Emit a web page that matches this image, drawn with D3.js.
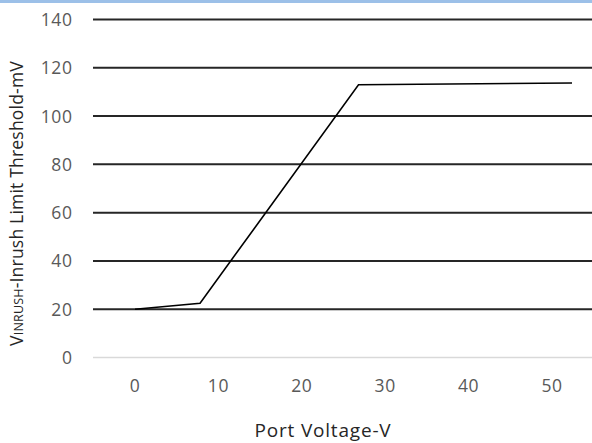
<!DOCTYPE html>
<html>
<head>
<meta charset="utf-8">
<script src="https://cdn.jsdelivr.net/npm/d3@7/dist/d3.min.js"></script>
<style>
  body { margin: 0; background: #fff; }
  text { font-family: "Open Sans", "Noto Sans", sans-serif; }
</style>
</head>
<body>
<svg id="chart" width="592" height="443"></svg>
<script>
// data
var voltage = [0, 7.8, 26.8, 52.4];
var threshold = [20, 22.5, 113, 113.7];
var yTicks = [0, 20, 40, 60, 80, 100, 120, 140];
var xTicks = [0, 10, 20, 30, 40, 50];

var svg = d3.select("#chart"),
    width = +svg.attr("width"),
    height = +svg.attr("height");

var margin = {top: 19.5, right: 0, bottom: 85.5, left: 93};

var x = d3.scaleLinear()
  .domain([0, 10])
  .range([135, 218.4]);

var y = d3.scaleLinear()
  .domain([0, 140])
  .range([height - margin.bottom, margin.top]);

// thin blue strip across the top
svg.append("rect")
  .attr("x", 0).attr("y", 0)
  .attr("width", width).attr("height", 3)
  .attr("fill", "#9cc0e8");

// gridlines
svg.selectAll(".grid")
  .data(yTicks)
  .enter().append("line")
    .attr("class", "grid")
    .attr("x1", margin.left)
    .attr("x2", width)
    .attr("y1", function(d) { return y(d); })
    .attr("y2", function(d) { return y(d); })
    .attr("stroke", function(d) { return d == 0 ? "#d9d9d9" : "#262626"; })
    .attr("stroke-width", function(d) { return d == 0 ? 1.5 : 2; });

// y tick labels
svg.selectAll(".ylab")
  .data(yTicks)
  .enter().append("text")
    .attr("class", "ylab")
    .attr("x", 72.5)
    .attr("y", function(d) { return y(d) + 6.5; })
    .attr("text-anchor", "end")
    .attr("font-size", "17.5px")
    .attr("letter-spacing", "0.6px")
    .attr("fill", "#595959")
    .text(function(d) { return d; });

// x tick labels
svg.selectAll(".xlab")
  .data(xTicks)
  .enter().append("text")
    .attr("class", "xlab")
    .attr("x", function(d) { return x(d); })
    .attr("y", 392)
    .attr("text-anchor", "middle")
    .attr("font-size", "17.5px")
    .attr("letter-spacing", "0.6px")
    .attr("fill", "#595959")
    .text(function(d) { return d; });

// the curve
var line = d3.line()
  .x(function(d) { return x(d[0]); })
  .y(function(d) { return y(d[1]); });

svg.append("path")
  .datum(d3.zip(voltage, threshold))
  .attr("d", line)
  .attr("fill", "none")
  .attr("stroke", "#000")
  .attr("stroke-width", 1.6)
  .attr("stroke-linejoin", "miter");

// axis titles
svg.append("text")
  .attr("x", 323)
  .attr("y", 437)
  .attr("text-anchor", "middle")
  .attr("font-size", "19px")
  .attr("letter-spacing", "0.8px")
  .attr("fill", "#262626")
  .text("Port Voltage-V");

var ytitle = svg.append("text")
  .attr("transform", "translate(23,203.5) rotate(-90)")
  .attr("text-anchor", "middle")
  .attr("font-size", "17.5px")
  .attr("letter-spacing", "0.2px")
  .attr("fill", "#262626");
ytitle.append("tspan").text("V");
ytitle.append("tspan").attr("font-size", "12.5px").text("INRUSH");
ytitle.append("tspan").text("-Inrush Limit Threshold-mV");
</script>
</body>
</html>
